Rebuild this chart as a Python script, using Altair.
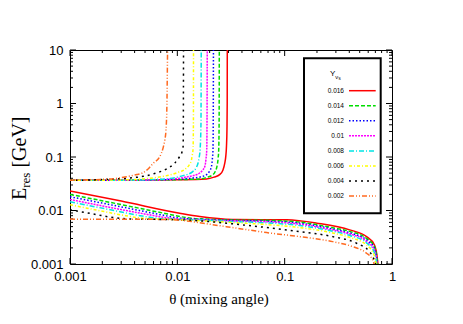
import altair as alt
import pandas as pd

# ---------------- data ----------------
Y_LABELS = ["0.016", "0.014", "0.012", "0.01", "0.008", "0.006", "0.004", "0.002"]
COLORS = ["#ff0000", "#00dd00", "#0000ff", "#ff00ff", "#00e5e5", "#ffff00", "#000000", "#ff6a20"]
DASHES = [None, [4, 2], [1.5, 2], [2, 1], [5, 2, 1, 2], [3, 2, 1, 2], [2, 4], [5, 2, 1, 2, 1, 2]]

# upper branch (theta, E_res)
UP_016_T = [0.001, 0.003, 0.01, 0.0187, 0.022, 0.0248, 0.0265, 0.0277, 0.0283, 0.0287, 0.0290, 0.02915, 0.0292]
UP_016_E = [0.0366, 0.0367, 0.0375, 0.0388, 0.042, 0.0468, 0.056, 0.0774, 0.105, 0.159, 0.33, 1.0, 10.0]
UP_014_T = [0.001, 0.003, 0.01, 0.0162, 0.019, 0.0215, 0.0226, 0.0234, 0.0240, 0.0243, 0.0245, 0.0246]
UP_014_E = [0.0366, 0.0367, 0.0378, 0.0388, 0.042, 0.0468, 0.054, 0.0669, 0.095, 0.138, 0.4, 10.0]
UP_012_T = [0.001, 0.003, 0.008, 0.0140, 0.0168, 0.0187, 0.0199, 0.0208, 0.0212, 0.0215, 0.0216, 0.0217]
UP_012_E = [0.0366, 0.0368, 0.0378, 0.0406, 0.043, 0.0468, 0.054, 0.0669, 0.092, 0.138, 0.4, 10.0]
UP_010_T = [0.001, 0.003, 0.008, 0.0122, 0.0156, 0.0171, 0.01805, 0.0185, 0.0188, 0.0189, 0.0190]
UP_010_E = [0.0366, 0.0368, 0.0382, 0.0424, 0.0482, 0.056, 0.0669, 0.092, 0.138, 0.4, 10.0]
UP_008_T = [0.001, 0.003, 0.007, 0.0113, 0.0140, 0.0150, 0.0156, 0.0160, 0.0163, 0.0166, 0.0167]
UP_008_E = [0.0366, 0.0369, 0.0385, 0.0448, 0.054, 0.063, 0.0774, 0.100, 0.138, 0.4, 10.0]
UP_006_T = [0.001, 0.003, 0.0074, 0.0098, 0.0122, 0.0130, 0.01355, 0.0138, 0.0140, 0.01412, 0.01415]
UP_006_E = [0.0366, 0.0372, 0.0435, 0.0504, 0.0623, 0.073, 0.0893, 0.110, 0.138, 0.41, 10.0]
UP_004_T = [0.001, 0.002, 0.00361, 0.00481, 0.00641, 0.00795, 0.00948, 0.01054, 0.01100, 0.01133, 0.01138, 0.01142]
UP_004_E = [0.0366, 0.0378, 0.0406, 0.0435, 0.0504, 0.0598, 0.0774, 0.103, 0.120, 0.160, 0.5, 10.0]
UP_002_T = [0.001, 0.00236, 0.00339, 0.00420, 0.00478, 0.0054, 0.00592, 0.00687, 0.00738, 0.00765, 0.00782, 0.00798, 0.00811]
UP_002_E = [0.0369, 0.0388, 0.043, 0.047, 0.0509, 0.061, 0.0752, 0.102, 0.150, 0.21, 0.30, 0.774, 10.0]

# lower branch (theta, E_res)
LO_016_T = [0.001, 0.003, 0.0105, 0.0162, 0.0328, 0.06, 0.1045, 0.1986, 0.403, 0.579, 0.687, 0.733, 0.755, 0.775]
LO_016_E = [0.0231, 0.0150, 0.0089, 0.0077, 0.0068, 0.00675, 0.00668, 0.0058, 0.00435, 0.00325, 0.00227, 0.00119, 0.0006, 0.0002]
LO_014_T = [0.001, 0.003, 0.0077, 0.0125, 0.02, 0.0328, 0.068, 0.138, 0.28, 0.403, 0.579, 0.687, 0.735, 0.76]
LO_014_E = [0.0200, 0.0129, 0.0088, 0.0073, 0.00685, 0.00663, 0.00654, 0.00606, 0.00475, 0.00407, 0.00301, 0.0021, 0.001, 0.0004]
LO_012_T = [0.001, 0.003, 0.0065, 0.0105, 0.018, 0.0328, 0.068, 0.138, 0.28, 0.403, 0.579, 0.687, 0.73, 0.76]
LO_012_E = [0.0181, 0.0117, 0.0086, 0.0072, 0.0068, 0.00654, 0.0063, 0.0058, 0.0045, 0.00382, 0.00282, 0.00195, 0.001, 0.0003]
LO_010_T = [0.001, 0.003, 0.0055, 0.0085, 0.015, 0.0328, 0.068, 0.138, 0.28, 0.403, 0.579, 0.687, 0.725, 0.755]
LO_010_E = [0.0161, 0.0104, 0.0083, 0.0072, 0.00675, 0.0064, 0.00615, 0.00556, 0.0043, 0.00365, 0.00264, 0.0018, 0.001, 0.0003]
LO_008_T = [0.001, 0.003, 0.0045, 0.0068, 0.012, 0.018, 0.0328, 0.068, 0.138, 0.28, 0.403, 0.579, 0.687, 0.72, 0.75]
LO_008_E = [0.01456, 0.0094, 0.0080, 0.0071, 0.0068, 0.0066, 0.0062, 0.00588, 0.00523, 0.0041, 0.00342, 0.00248, 0.0016, 0.001, 0.0003]
LO_006_T = [0.001, 0.002, 0.0033, 0.005, 0.009, 0.015, 0.0328, 0.068, 0.138, 0.28, 0.403, 0.579, 0.687, 0.71, 0.74]
LO_006_E = [0.0128, 0.0097, 0.0080, 0.0071, 0.0068, 0.0065, 0.00595, 0.00546, 0.0048, 0.0038, 0.00314, 0.00227, 0.0014, 0.001, 0.0004]
LO_004_T = [0.001, 0.0016, 0.0023, 0.004, 0.0075, 0.0105, 0.01618, 0.0328, 0.068, 0.138, 0.28, 0.468, 0.618, 0.67, 0.702, 0.73, 0.76]
LO_004_E = [0.0103, 0.0087, 0.0076, 0.0069, 0.0068, 0.0067, 0.00641, 0.00563, 0.0048, 0.00404, 0.00325, 0.00244, 0.0017, 0.0013, 0.001, 0.0006, 0.0002]
LO_002_T = [0.001, 0.004, 0.008, 0.0105, 0.0162, 0.0248, 0.0328, 0.068, 0.138, 0.28, 0.43, 0.579, 0.66, 0.68, 0.71, 0.74]
LO_002_E = [0.0069, 0.00685, 0.0068, 0.0066, 0.0059, 0.0052, 0.0048, 0.00386, 0.00325, 0.00262, 0.00211, 0.00159, 0.0012, 0.001, 0.0006, 0.0003]

UPPER = [(UP_016_T, UP_016_E), (UP_014_T, UP_014_E), (UP_012_T, UP_012_E), (UP_010_T, UP_010_E),
         (UP_008_T, UP_008_E), (UP_006_T, UP_006_E), (UP_004_T, UP_004_E), (UP_002_T, UP_002_E)]
LOWER = [(LO_016_T, LO_016_E), (LO_014_T, LO_014_E), (LO_012_T, LO_012_E), (LO_010_T, LO_010_E),
         (LO_008_T, LO_008_E), (LO_006_T, LO_006_E), (LO_004_T, LO_004_E), (LO_002_T, LO_002_E)]

X_MAJOR = [0.001, 0.01, 0.1, 1]
Y_MAJOR = [0.001, 0.01, 0.1, 1, 10]
X_MINOR = [m * d for d in [0.001, 0.01, 0.1] for m in range(2, 10)]
Y_MINOR = [m * d for d in [0.001, 0.01, 0.1, 1] for m in range(2, 10)]

# ---------------- layout ----------------
W, H = 322, 214
MAJ, MIN = 6, 3
SANS = "Liberation Sans"
SERIF = "Liberation Serif"

xs = alt.Scale(type="log", domain=[0.001, 1])
ys = alt.Scale(type="log", domain=[0.001, 10])
ax_x = alt.Axis(values=X_MAJOR, format="~g", title=None, ticks=False, domain=False, grid=False,
                labelFlush=False, labelOverlap=False, labelPadding=6)
ax_y = alt.Axis(values=Y_MAJOR, format="~g", title=None, ticks=False, domain=False, grid=False,
                labelFlush=False, labelOverlap=False, labelPadding=7)

layers = []

# tick marks (inward, mirrored)
for vals, ln in [(X_MAJOR, MAJ), (X_MINOR, MIN)]:
    d = pd.DataFrame({"v": vals})
    enc_x = alt.X("v:Q", scale=xs, axis=ax_x)
    layers.append(alt.Chart(d).mark_rule(color="black", strokeWidth=1).encode(
        x=enc_x, y=alt.value(H), y2=alt.value(H - ln)))
    layers.append(alt.Chart(d).mark_rule(color="black", strokeWidth=1).encode(
        x=enc_x, y=alt.value(0), y2=alt.value(ln)))
for vals, ln in [(Y_MAJOR, MAJ), (Y_MINOR, MIN)]:
    d = pd.DataFrame({"v": vals})
    enc_y = alt.Y("v:Q", scale=ys, axis=ax_y)
    layers.append(alt.Chart(d).mark_rule(color="black", strokeWidth=1).encode(
        y=enc_y, x=alt.value(0), x2=alt.value(ln)))
    layers.append(alt.Chart(d).mark_rule(color="black", strokeWidth=1).encode(
        y=enc_y, x=alt.value(W), x2=alt.value(W - ln)))

# curves
for i, lab in enumerate(Y_LABELS):
    rows = []
    for br, (tt, ee) in [("upper", UPPER[i]), ("lower", LOWER[i])]:
        for k, (t, e) in enumerate(zip(tt, ee)):
            rows.append({"theta": t, "E": e, "branch": br, "idx": k})
    df = pd.DataFrame(rows)
    mk = dict(color=COLORS[i], strokeWidth=1.5, clip=True, interpolate="monotone")
    if DASHES[i] is not None:
        mk["strokeDash"] = DASHES[i]
    layers.append(alt.Chart(df).mark_line(**mk).encode(
        x=alt.X("theta:Q", scale=xs, axis=ax_x),
        y=alt.Y("E:Q", scale=ys, axis=ax_y),
        detail="branch:N",
        order="idx:Q",
    ))

one = pd.DataFrame({"a": [0]})

# legend box
LX0, LX1, LY0, LY1 = 234, 310.7, 8.3, 163.3
layers.append(alt.Chart(one).mark_rect(fill="white", stroke="black", strokeWidth=2).encode(
    x=alt.value(LX0), x2=alt.value(LX1), y=alt.value(LY0), y2=alt.value(LY1)))
layers.append(alt.Chart(one).mark_text(text="Y", font=SANS, fontSize=8, align="left", baseline="alphabetic").encode(
    x=alt.value(260), y=alt.value(26)))
layers.append(alt.Chart(one).mark_text(text="ν", font=SANS, fontSize=6, align="left", baseline="alphabetic").encode(
    x=alt.value(265.3), y=alt.value(28.5)))
layers.append(alt.Chart(one).mark_text(text="s", font=SANS, fontSize=4.5, align="left", baseline="alphabetic").encode(
    x=alt.value(268.6), y=alt.value(30.2)))
for i, lab in enumerate(Y_LABELS):
    yy = 40.7 + i * 15.05
    layers.append(alt.Chart(one).mark_text(text=lab, font=SANS, fontSize=6.5, align="right",
                                           baseline="middle", color="black").encode(
        x=alt.value(274), y=alt.value(yy)))
    mk = dict(color=COLORS[i], strokeWidth=1.5)
    if DASHES[i] is not None:
        mk["strokeDash"] = DASHES[i]
    layers.append(alt.Chart(one).mark_rule(**mk).encode(
        x=alt.value(279), x2=alt.value(305.7), y=alt.value(yy)))

# axis titles
layers.append(alt.Chart(one).mark_text(text="E", font=SERIF, fontSize=20, angle=270, align="left",
                                       baseline="alphabetic").encode(x=alt.value(-44), y=alt.value(150)))
layers.append(alt.Chart(one).mark_text(text="res", font=SERIF, fontSize=13, angle=270, align="left",
                                       baseline="alphabetic").encode(x=alt.value(-40.5), y=alt.value(137.8)))
layers.append(alt.Chart(one).mark_text(text="[GeV]", font=SERIF, fontSize=20, angle=270, align="left",
                                       baseline="alphabetic").encode(x=alt.value(-44), y=alt.value(117.6)))
layers.append(alt.Chart(one).mark_text(text="θ (mixing angle)", font=SERIF, fontSize=15, align="center",
                                       baseline="alphabetic").encode(x=alt.value(149), y=alt.value(254)))

chart = alt.layer(*layers).properties(
    width=W, height=H,
    autosize=alt.AutoSizeParams(type="none"),
    padding={"left": 62, "top": 42, "right": 60, "bottom": 50},
).configure_view(stroke="black", strokeWidth=1).configure_axis(
    labelFont=SANS, labelFontSize=13, labelColor="black"
)

chart.save("out.html", embed_options={"renderer": "svg", "actions": False})
